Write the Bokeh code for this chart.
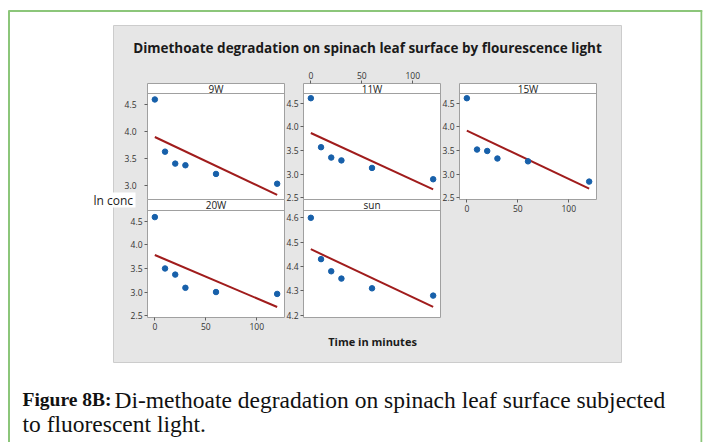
import numpy as np
from bokeh.plotting import figure
from bokeh.layouts import column
from bokeh.models import FixedTicker, PrintfTickFormatter, Range1d, Span
from bokeh.embed import file_html
from bokeh.resources import INLINE
from bokeh.core.properties import value

# ---------------- data ----------------
minutes = [0, 10, 20, 30, 60, 120]
panel_names = ["9W", "11W", "15W", "20W", "sun"]
ln_conc_9w = [4.59, 3.63, 3.41, 3.38, 3.22, 3.04]
ln_conc_11w = [4.61, 3.57, 3.35, 3.29, 3.13, 2.89]
ln_conc_15w = [4.61, 3.52, 3.49, 3.33, 3.27, 2.84]
ln_conc_20w = [4.59, 3.50, 3.37, 3.09, 3.00, 2.96]
ln_conc_sun = [4.60, 4.43, 4.38, 4.35, 4.31, 4.28]

x_ticks = [0, 50, 100]
y_ticks_9w = [3.0, 3.5, 4.0, 4.5]
y_ticks_std = [2.5, 3.0, 3.5, 4.0, 4.5]
y_ticks_sun = [4.2, 4.3, 4.4, 4.5, 4.6]

title_text = "Dimethoate degradation on spinach leaf surface by flourescence light"
x_label = "Time in minutes"
y_label = "ln conc"
caption_bold = "Figure 8B:"
caption_line1 = "Di-methoate degradation on spinach leaf surface subjected"
caption_line2 = "to fluorescent light."

# ---------------- layout constants (page pixels) ----------------
PW, PH = 702, 442
ML, MR = 30, 1
SANS = "Open Sans"
SERIF = "Liberation Serif"
BLUE = "#1760aa"
RED = "#a01c1c"
FRAME_GRAY = "#a0a0a0"

bg = figure(frame_width=PW, frame_height=PH, x_range=Range1d(start=0, end=PW),
            y_range=Range1d(start=PH, end=0),
            min_border_left=ML, min_border_right=MR, min_border_top=0, min_border_bottom=0,
            x_axis_location=None, y_axis_location=None,
            toolbar_location=None, output_backend="svg",
            outline_line_color=None, background_fill_color="white", border_fill_color="white")
bg.grid.visible = False
# the column is shifted left by ML so that this frame starts at the page origin
bg.styles = {"position": "absolute", "left": "0px", "top": "0px"}

# green page border
green = "#8cc67a"
bg.segment(x0=[8.5, 8, 701], y0=[10, 10.5, 10], x1=[8.5, 702, 701], y1=[PH, 10.5, PH],
           line_color=green, line_width=2)
# gray graph area
bg.quad(left=[113], right=[621], top=[25], bottom=[362], fill_color="#e6e6e6", line_color="#cccccc")
# title
bg.text(x=[367], y=[47.5], text=[title_text], text_align="center", text_baseline="middle",
        text_font=value(SANS), text_font_style="bold", text_font_size="13.5px", text_color="#1a1a1a")
# x label
bg.text(x=[372], y=[341], text=[x_label], text_align="center", text_baseline="middle",
        text_font=value(SANS), text_font_style="bold", text_font_size="11px", text_color="#1a1a1a")
# y label with white box
bg.quad(left=[90], right=[135], top=[192], bottom=[207], fill_color="white", line_color=None)
bg.text(x=[93], y=[199.5], text=[y_label], text_align="left", text_baseline="middle",
        text_font=value(SANS), text_font_size="12px", text_color="#1a1a1a")
# caption
bg.text(x=[22], y=[399], text=[caption_bold], text_align="left", text_baseline="middle",
        text_font=value(SERIF), text_font_style="bold", text_font_size="19.5px", text_color="#111111")
bg.text(x=[114], y=[399], text=[caption_line1], text_align="left", text_baseline="middle",
        text_font=value(SERIF), text_font_size="23.5px", text_color="#111111")
bg.text(x=[22], y=[423], text=[caption_line2], text_align="left", text_baseline="middle",
        text_font=value(SERIF), text_font_size="23.5px", text_color="#111111")

series = {"9W": ln_conc_9w, "11W": ln_conc_11w, "15W": ln_conc_15w, "20W": ln_conc_20w, "sun": ln_conc_sun}
yticks = {"9W": y_ticks_9w, "11W": y_ticks_std, "15W": y_ticks_std, "20W": y_ticks_std, "sun": y_ticks_sun}
ylims = {"9W": (2.75, 4.70), "11W": (2.46, 4.71), "15W": (2.46, 4.71), "20W": (2.46, 4.73), "sun": (4.19, 4.63)}
label_standoff = {"9W": 8, "11W": 2, "15W": 2, "20W": 2, "sun": 2}
# frame_left, frame_top, frame_h, strip_h, x axis location
geom = {"9W": (147, 83, 116, 10, None), "11W": (303, 83, 116, 10, "above"),
        "15W": (459, 83, 116, 10, "below"), "20W": (147, 199, 118, 11, "below"),
        "sun": (303, 199, 118, 11, None)}

FW = 137
MS, MA = 3, 22
XR = (-7.2, 127.2)

panels = []
for name in panel_names:
    fl, ft, fh, sh, xloc = geom[name]
    y0, y1 = ylims[name]
    plot_h = fh - sh
    y_end = y1 + (y1 - y0) * sh / plot_h
    mt = MA if xloc == "above" else MS
    mb = MA if xloc == "below" else MS
    p = figure(frame_width=FW, frame_height=fh, x_range=Range1d(*XR), y_range=Range1d(y0, y_end),
               x_axis_location=xloc, y_axis_location="left",
               min_border_left=ML, min_border_right=MR, min_border_top=mt, min_border_bottom=mb,
               toolbar_location=None, output_backend="svg",
               border_fill_alpha=0, background_fill_color="white",
               outline_line_color=FRAME_GRAY, outline_line_width=1)
    p.grid.visible = False
    for ax in p.yaxis:
        ax.ticker = FixedTicker(ticks=yticks[name])
        ax.formatter = PrintfTickFormatter(format="%.1f")
        ax.major_label_standoff = label_standoff[name]
    if xloc is not None:
        for ax in p.xaxis:
            ax.ticker = FixedTicker(ticks=x_ticks)
            ax.formatter = PrintfTickFormatter(format="%d")
            ax.major_label_standoff = 2
    for ax in p.axis:
        ax.axis_line_color = None
        ax.major_tick_out = 3
        ax.major_tick_in = 0
        ax.minor_tick_line_color = None
        ax.major_tick_line_color = "#606060"
        ax.major_label_text_font = SANS
        ax.major_label_text_font_size = "8.5px"
        ax.major_label_text_color = "#333333"
    # strip
    p.add_layout(Span(location=y1, dimension="width", line_color=FRAME_GRAY, line_width=1))
    p.text(x=[(XR[0] + XR[1]) / 2], y=[(y1 + y_end) / 2], text=[name], text_align="center",
           text_baseline="middle", text_font=value(SANS), text_font_size="10px", text_color="#222222")
    ys = series[name]
    slope, icpt = np.polyfit(minutes, ys, 1)
    xs_fit = [min(minutes), max(minutes)]
    p.line(xs_fit, [icpt + slope * v for v in xs_fit], line_color=RED, line_width=2)
    p.scatter(minutes, ys, size=5.5, marker="circle", fill_color=BLUE, line_color=BLUE)
    # column origin is at page x = -ML, so left = (fl - ML) + ML
    p.styles = {"position": "absolute", "left": f"{fl}px", "top": f"{ft - mt}px"}
    panels.append(p)

root = column(bg, *panels, width=PW + ML + MR, height=PH + 1,
              styles={"position": "relative", "left": f"{-ML}px"})
open("out.html", "w").write(file_html(root, INLINE))
